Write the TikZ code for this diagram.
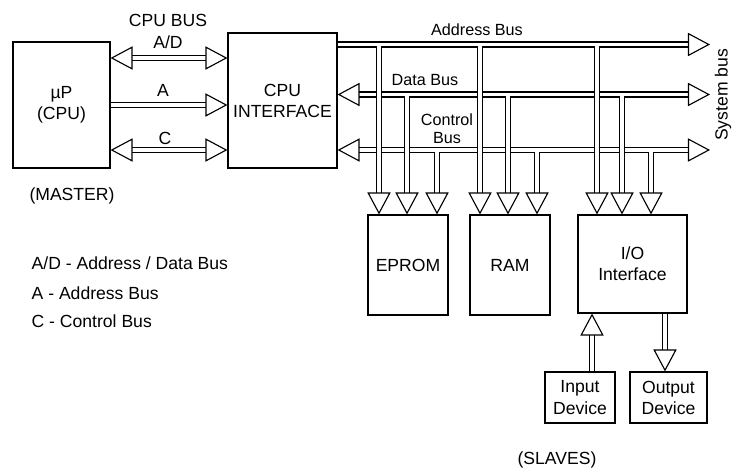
\documentclass[tikz,border=0pt]{standalone}
\usepackage{fontspec}
\setmainfont{Liberation Sans}
\usetikzlibrary{arrows.meta,calc}
\tikzset{
  blk/.style={draw,line width=0.8pt,align=center,inner sep=2pt,font=\fontsize{12.5}{15}\selectfont},
  bus/.style={double,double distance=2.7pt,line width=0.8pt},
  lbl/.style={font=\fontsize{12.5}{15}\selectfont,inner sep=1pt},
  slbl/.style={font=\fontsize{11.5}{13}\selectfont,inner sep=1pt,align=center}
}

\begin{document}
\begin{tikzpicture}[x=0.025cm,y=-0.025cm,>={Triangle[open,length=5.5mm,width=5.8mm,line width=0.8pt]}]
\useasboundingbox (0,0) rectangle (733,469);
% master side
\node[blk,minimum width=2.425cm,minimum height=3.15cm] (cpu) at (61.5,105) {µP\\(CPU)};
\node[blk,minimum width=2.725cm,minimum height=3.375cm] (cif) at (282.5,100.5) {CPU\\INTERFACE};
\node[lbl] (master) at (72,196) {(MASTER)};
\node[lbl] (cpubus) at (168,20) {CPU BUS};
\node[lbl] (adl) at (168,42) {A/D};
\node[lbl] (al) at (163,90) {A};
\node[lbl] (cl) at (165,138) {C};
\coordinate (yad) at (0,58);
\coordinate (ya) at (0,105);
\coordinate (yc) at (0,150);
\draw[bus,<->] (cpu.east |- yad) -- (cif.west |- yad);
\draw[bus,->] (cpu.east |- ya) -- (cif.west |- ya);
\draw[bus,<->] (cpu.east |- yc) -- (cif.west |- yc);
% legend
\node[lbl,anchor=west] (k1) at (30,263) {A/D - Address / Data Bus};
\node[lbl,anchor=west] (k2) at (30,293) {A - Address Bus};
\node[lbl,anchor=west] (k3) at (30,321) {C - Control Bus};
% slaves
\node[blk,minimum width=2cm,minimum height=2.5cm] (eprom) at (408,265) {EPROM};
\node[blk,minimum width=2cm,minimum height=2.5cm] (ram) at (510,265) {RAM};
\node[blk,minimum width=2.725cm,minimum height=2.45cm] (io) at (632.5,264) {I/O\\Interface};
\node[blk,minimum width=1.75cm,minimum height=1.275cm] (inp) at (580,397.5) {Input\\Device};
\node[blk,minimum width=1.925cm,minimum height=1.275cm] (outp) at (668.5,397.5) {Output\\Device};
\node[lbl] (slaves) at (557,460) {(SLAVES)};
% system bus
\coordinate (abus) at (710,44.5);
\coordinate (dbus) at (710,94.5);
\coordinate (cbus) at (710,150);
\draw[bus,->] (cif.east |- abus) -- (abus);
\draw[bus,<->] (cif.east |- dbus) -- (dbus);
\draw[bus,<->] (cif.east |- cbus) -- (cbus);
\node[slbl] (abl) at (477,30) {Address Bus};
\node[slbl] (dbl) at (425,80) {Data Bus};
\node[slbl] (cbl) at (447,129) {Control\\Bus};
\node[lbl,rotate=90,inner sep=0pt] (sysbus) at (723,95) {System bus};
% drops to the slaves
\coordinate (eA) at (379,46.4);
\coordinate (eD) at (407,96.4);
\coordinate (eC) at (437,151.9);
\coordinate (rA) at (480,46.4);
\coordinate (rD) at (508,96.4);
\coordinate (rC) at (537,151.9);
\coordinate (iA) at (597,46.4);
\coordinate (iD) at (622,96.4);
\coordinate (iC) at (651,151.9);
\draw[bus,->] (eA) -- (eA |- eprom.north);
\draw[bus,->] (eD) -- (eD |- eprom.north);
\draw[bus,->] (eC) -- (eC |- eprom.north);
\draw[bus,->] (rA) -- (rA |- ram.north);
\draw[bus,->] (rD) -- (rD |- ram.north);
\draw[bus,->] (rC) -- (rC |- ram.north);
\draw[bus,->] (iA) -- (iA |- io.north);
\draw[bus,->] (iD) -- (iD |- io.north);
\draw[bus,->] (iC) -- (iC |- io.north);
% devices
\coordinate (xin) at (592,0);
\coordinate (xout) at (665,0);
\draw[bus,->] (inp.north -| xin) -- (io.south -| xin);
\draw[bus,->] (io.south -| xout) -- (outp.north -| xout);
\end{tikzpicture}
\end{document}
